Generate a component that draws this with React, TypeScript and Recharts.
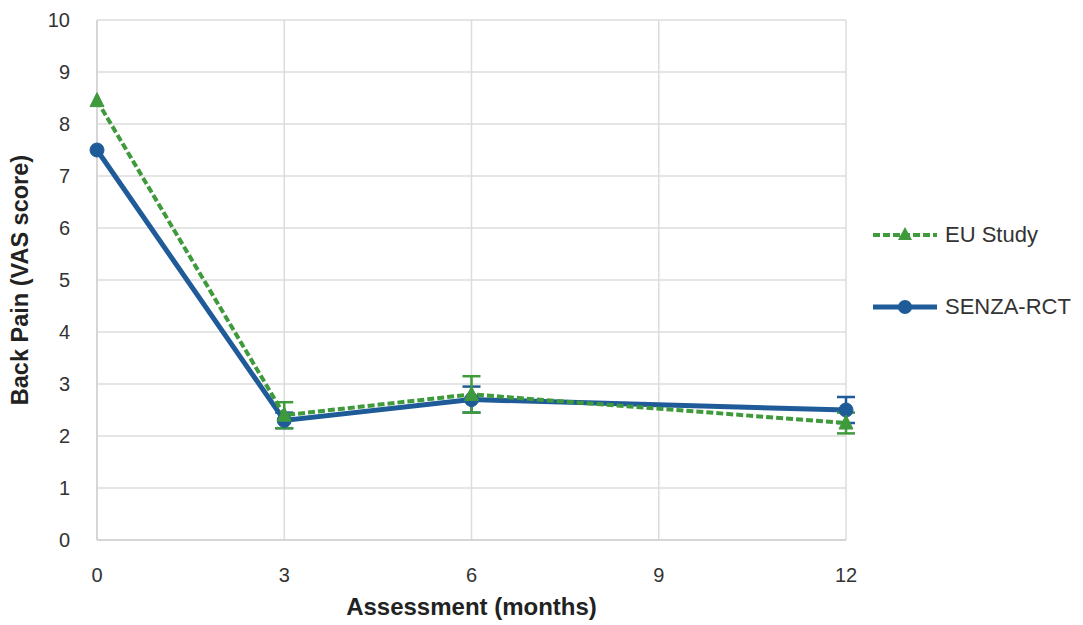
import React from 'react';
import { LineChart, Line, XAxis, YAxis, CartesianGrid, ErrorBar, Legend, Label } from 'recharts';

const months = [0, 3, 6, 12];
const euStudy = [8.45, 2.4, 2.8, 2.25];
const euErr = [0, 0.25, 0.35, 0.2];
const senza = [7.5, 2.3, 2.7, 2.5];
const senzaErr = [0, 0.15, 0.25, 0.25];
const xTicks = [0, 3, 6, 9, 12];
const yTicks = [0, 1, 2, 3, 4, 5, 6, 7, 8, 9, 10];
const seriesNames = ['EU Study', 'SENZA-RCT'];

const data = months.map((m, i) => ({
  month: m,
  eu: euStudy[i],
  euErr: euErr[i],
  senza: senza[i],
  senzaErr: senzaErr[i],
}));

const GREEN = '#3f9a3c';
const BLUE = '#1f5b98';
const FONT = '"Liberation Sans", Arial, sans-serif';

const Triangle = (props: any) => {
  const { cx, cy } = props;
  if (cx == null || cy == null) return null;
  const s = 7;
  return (
    <polygon
      points={`${cx},${cy - s - 1} ${cx - s},${cy + s - 1} ${cx + s},${cy + s - 1}`}
      fill={GREEN}
      stroke={GREEN}
      strokeWidth={1}
    />
  );
};

const Circle = (props: any) => {
  const { cx, cy } = props;
  if (cx == null || cy == null) return null;
  return <circle cx={cx} cy={cy} r={7} fill={BLUE} stroke={BLUE} strokeWidth={1} />;
};

const CustomLegend = () => (
  <div style={{ fontFamily: FONT, fontSize: 22, color: '#333' }}>
    <div style={{ display: 'flex', alignItems: 'center', height: 30 }}>
      <svg width={68} height={20}>
        <line x1={2} y1={10} x2={66} y2={10} stroke={GREEN} strokeWidth={4} strokeDasharray="7 3" />
        <polygon points="34,2 27,15 41,15" fill={GREEN} />
      </svg>
      <span style={{ marginLeft: 6 }}>{seriesNames[0]}</span>
    </div>
    <div style={{ display: 'flex', alignItems: 'center', height: 30, marginTop: 42 }}>
      <svg width={68} height={20}>
        <line x1={2} y1={10} x2={66} y2={10} stroke={BLUE} strokeWidth={5} />
        <circle cx={34} cy={10} r={7} fill={BLUE} />
      </svg>
      <span style={{ marginLeft: 6 }}>{seriesNames[1]}</span>
    </div>
  </div>
);

export default function App() {
  return (
    <div style={{ position: 'absolute', left: 0, top: 0, background: '#fff' }}>
      <LineChart
        width={1083}
        height={625}
        data={data}
        margin={{ top: 20, right: 27, left: 0, bottom: 0 }}
      >
        <CartesianGrid stroke="#dcdcdc" strokeWidth={1.5} vertical={true} horizontal={true} />
        <XAxis
          dataKey="month"
          type="number"
          domain={[0, 12]}
          ticks={xTicks}
          height={85}
          tickSize={0}
          tickMargin={28}
          axisLine={{ stroke: '#d0d0d0', strokeWidth: 1.5 }}
          tick={{ fontFamily: FONT, fontSize: 20, fill: '#333' }}
        >
          <Label
            value="Assessment (months)"
            position="insideBottom"
            offset={10}
            style={{ fontFamily: FONT, fontSize: 24, fontWeight: 'bold', fill: '#222' }}
          />
        </XAxis>
        <YAxis
          type="number"
          domain={[0, 10]}
          ticks={yTicks}
          width={97}
          tickSize={0}
          tickMargin={27}
          interval={0}
          axisLine={{ stroke: '#d0d0d0', strokeWidth: 1.5 }}
          tick={{ fontFamily: FONT, fontSize: 20, fill: '#333' }}
        >
          <Label
            value="Back Pain (VAS score)"
            angle={-90}
            position="insideLeft"
            offset={20}
            style={{ fontFamily: FONT, fontSize: 23.5, fontWeight: 'bold', fill: '#222', textAnchor: 'middle' }}
          />
        </YAxis>
        <Legend
          layout="vertical"
          verticalAlign="top"
          align="right"
          content={<CustomLegend />}
          wrapperStyle={{ left: 871, top: 220, width: 210 }}
        />
        <Line
          type="linear"
          dataKey="senza"
          name={seriesNames[1]}
          stroke={BLUE}
          strokeWidth={5}
          dot={<Circle />}
          isAnimationActive={false}
        >
          <ErrorBar dataKey="senzaErr" direction="y" width={9} stroke={BLUE} strokeWidth={2.5} />
        </Line>
        <Line
          type="linear"
          dataKey="eu"
          name={seriesNames[0]}
          stroke={GREEN}
          strokeWidth={4}
          strokeDasharray="7 3"
          dot={<Triangle />}
          isAnimationActive={false}
        >
          <ErrorBar dataKey="euErr" direction="y" width={9} stroke={GREEN} strokeWidth={2.5} />
        </Line>
      </LineChart>
    </div>
  );
}
